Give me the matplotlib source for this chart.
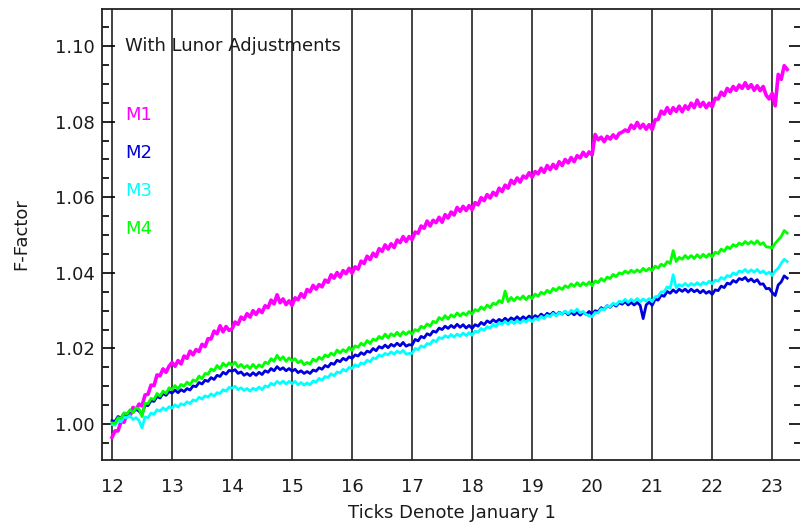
import numpy as np
import matplotlib.pyplot as plt
from matplotlib.ticker import MultipleLocator

# sample times, every 0.05 yr from Jan 1 2012 (year label 12) to early 2023
years = np.linspace(12.0, 23.25, 226)

m1 = [
    0.9965, 0.9982, 0.9982, 1.0007, 1.0005, 1.0027, 1.0021, 1.0044, 1.0038, 1.0053,
    1.0048, 1.0077, 1.0079, 1.0103, 1.0102, 1.0130, 1.0128, 1.0146, 1.0137, 1.0153,
    1.0163, 1.0153, 1.0168, 1.0159, 1.0180, 1.0174, 1.0193, 1.0183, 1.0197, 1.0192,
    1.0211, 1.0205, 1.0226, 1.0225, 1.0246, 1.0239, 1.0260, 1.0244, 1.0258, 1.0248,
    1.0252, 1.0270, 1.0264, 1.0283, 1.0277, 1.0292, 1.0283, 1.0300, 1.0290, 1.0303,
    1.0295, 1.0313, 1.0308, 1.0328, 1.0318, 1.0342, 1.0321, 1.0331, 1.0316, 1.0326,
    1.0314, 1.0334, 1.0329, 1.0345, 1.0335, 1.0356, 1.0350, 1.0367, 1.0357, 1.0369,
    1.0363, 1.0381, 1.0375, 1.0395, 1.0386, 1.0401, 1.0389, 1.0406, 1.0398, 1.0412,
    1.0399, 1.0416, 1.0410, 1.0431, 1.0425, 1.0444, 1.0435, 1.0452, 1.0443, 1.0464,
    1.0457, 1.0474, 1.0463, 1.0477, 1.0467, 1.0487, 1.0480, 1.0496, 1.0483, 1.0496,
    1.0488, 1.0508, 1.0505, 1.0524, 1.0518, 1.0537, 1.0524, 1.0539, 1.0533, 1.0547,
    1.0534, 1.0554, 1.0545, 1.0561, 1.0553, 1.0573, 1.0563, 1.0576, 1.0565, 1.0578,
    1.0567, 1.0586, 1.0580, 1.0599, 1.0591, 1.0607, 1.0598, 1.0613, 1.0605, 1.0624,
    1.0615, 1.0632, 1.0624, 1.0645, 1.0636, 1.0651, 1.0640, 1.0656, 1.0651, 1.0665,
    1.0653, 1.0668, 1.0662, 1.0677, 1.0666, 1.0684, 1.0673, 1.0687, 1.0676, 1.0694,
    1.0684, 1.0700, 1.0691, 1.0705, 1.0694, 1.0710, 1.0704, 1.0719, 1.0708, 1.0720,
    1.0712, 1.0766, 1.0752, 1.0759, 1.0747, 1.0761, 1.0754, 1.0765, 1.0756, 1.0769,
    1.0772, 1.0778, 1.0774, 1.0791, 1.0782, 1.0798, 1.0783, 1.0793, 1.0780, 1.0792,
    1.0779, 1.0805, 1.0806, 1.0828, 1.0820, 1.0837, 1.0822, 1.0837, 1.0827, 1.0841,
    1.0826, 1.0842, 1.0833, 1.0849, 1.0837, 1.0857, 1.0840, 1.0851, 1.0837, 1.0849,
    1.0839, 1.0862, 1.0860, 1.0878, 1.0869, 1.0888, 1.0879, 1.0893, 1.0883, 1.0897,
    1.0888, 1.0903, 1.0888, 1.0898, 1.0883, 1.0895, 1.0882, 1.0893, 1.0870, 1.0860,
    1.0875, 1.0842, 1.0925, 1.0912, 1.0948, 1.0938,
]

m2 = [
    1.0009, 1.0007, 1.0020, 1.0016, 1.0028, 1.0025, 1.0036, 1.0031, 1.0041, 1.0034,
    1.0025, 1.0050, 1.0049, 1.0062, 1.0060, 1.0073, 1.0069, 1.0081, 1.0076, 1.0086,
    1.0082, 1.0090, 1.0083, 1.0091, 1.0086, 1.0094, 1.0090, 1.0101, 1.0099, 1.0110,
    1.0106, 1.0116, 1.0113, 1.0123, 1.0118, 1.0129, 1.0126, 1.0137, 1.0132, 1.0142,
    1.0140, 1.0144, 1.0134, 1.0138, 1.0129, 1.0134, 1.0128, 1.0136, 1.0129, 1.0137,
    1.0131, 1.0141, 1.0137, 1.0147, 1.0141, 1.0152, 1.0144, 1.0149, 1.0141, 1.0147,
    1.0140, 1.0145, 1.0136, 1.0141, 1.0134, 1.0139, 1.0134, 1.0143, 1.0140, 1.0149,
    1.0145, 1.0155, 1.0151, 1.0161, 1.0158, 1.0169, 1.0165, 1.0174, 1.0169, 1.0178,
    1.0174, 1.0183, 1.0180, 1.0189, 1.0184, 1.0193, 1.0190, 1.0200, 1.0194, 1.0205,
    1.0201, 1.0209, 1.0202, 1.0211, 1.0206, 1.0214, 1.0207, 1.0216, 1.0206, 1.0210,
    1.0209, 1.0224, 1.0220, 1.0232, 1.0228, 1.0239, 1.0235, 1.0246, 1.0243, 1.0254,
    1.0250, 1.0259, 1.0253, 1.0261, 1.0255, 1.0264, 1.0256, 1.0263, 1.0254, 1.0261,
    1.0253, 1.0263, 1.0259, 1.0269, 1.0263, 1.0273, 1.0268, 1.0276, 1.0270, 1.0277,
    1.0272, 1.0280, 1.0273, 1.0281, 1.0276, 1.0284, 1.0276, 1.0284, 1.0278, 1.0286,
    1.0278, 1.0287, 1.0282, 1.0291, 1.0284, 1.0293, 1.0288, 1.0296, 1.0288, 1.0296,
    1.0291, 1.0298, 1.0289, 1.0296, 1.0289, 1.0296, 1.0288, 1.0296, 1.0290, 1.0298,
    1.0290, 1.0300, 1.0297, 1.0308, 1.0303, 1.0313, 1.0309, 1.0318, 1.0312, 1.0321,
    1.0317, 1.0324, 1.0315, 1.0322, 1.0315, 1.0322, 1.0314, 1.0279, 1.0315, 1.0323,
    1.0314, 1.0330, 1.0328, 1.0341, 1.0338, 1.0351, 1.0346, 1.0355, 1.0348, 1.0357,
    1.0351, 1.0357, 1.0349, 1.0357, 1.0350, 1.0355, 1.0347, 1.0354, 1.0346, 1.0351,
    1.0343, 1.0355, 1.0353, 1.0365, 1.0361, 1.0373, 1.0370, 1.0380, 1.0375, 1.0385,
    1.0382, 1.0388, 1.0378, 1.0384, 1.0376, 1.0382, 1.0370, 1.0371, 1.0358, 1.0359,
    1.0348, 1.0340, 1.0368, 1.0376, 1.0392, 1.0386,
]

m3 = [
    0.9999, 0.9997, 1.0009, 1.0006, 1.0018, 1.0017, 1.0022, 1.0012, 1.0017, 1.0009,
    0.9990, 1.0019, 1.0017, 1.0029, 1.0026, 1.0038, 1.0034, 1.0043, 1.0037, 1.0046,
    1.0042, 1.0051, 1.0045, 1.0054, 1.0050, 1.0059, 1.0054, 1.0064, 1.0061, 1.0071,
    1.0066, 1.0075, 1.0071, 1.0080, 1.0074, 1.0083, 1.0081, 1.0091, 1.0087, 1.0097,
    1.0095, 1.0100, 1.0091, 1.0096, 1.0089, 1.0094, 1.0087, 1.0095, 1.0090, 1.0098,
    1.0091, 1.0101, 1.0098, 1.0108, 1.0103, 1.0113, 1.0107, 1.0114, 1.0106, 1.0113,
    1.0107, 1.0113, 1.0104, 1.0110, 1.0103, 1.0109, 1.0104, 1.0114, 1.0111, 1.0121,
    1.0116, 1.0126, 1.0123, 1.0133, 1.0128, 1.0138, 1.0135, 1.0145, 1.0140, 1.0150,
    1.0147, 1.0157, 1.0152, 1.0162, 1.0159, 1.0169, 1.0165, 1.0175, 1.0173, 1.0183,
    1.0179, 1.0187, 1.0183, 1.0191, 1.0185, 1.0193, 1.0188, 1.0195, 1.0185, 1.0187,
    1.0187, 1.0200, 1.0197, 1.0207, 1.0203, 1.0213, 1.0211, 1.0222, 1.0218, 1.0229,
    1.0226, 1.0234, 1.0229, 1.0237, 1.0230, 1.0238, 1.0233, 1.0241, 1.0234, 1.0242,
    1.0235, 1.0246, 1.0243, 1.0253, 1.0248, 1.0258, 1.0254, 1.0264, 1.0258, 1.0268,
    1.0264, 1.0272, 1.0264, 1.0272, 1.0266, 1.0274, 1.0267, 1.0275, 1.0270, 1.0278,
    1.0271, 1.0280, 1.0276, 1.0285, 1.0279, 1.0288, 1.0284, 1.0293, 1.0286, 1.0295,
    1.0291, 1.0299, 1.0292, 1.0301, 1.0296, 1.0304, 1.0294, 1.0298, 1.0290, 1.0286,
    1.0284, 1.0295, 1.0294, 1.0305, 1.0302, 1.0313, 1.0310, 1.0320, 1.0315, 1.0325,
    1.0322, 1.0330, 1.0322, 1.0330, 1.0324, 1.0332, 1.0324, 1.0331, 1.0325, 1.0332,
    1.0324, 1.0337, 1.0338, 1.0350, 1.0350, 1.0363, 1.0359, 1.0395, 1.0361, 1.0369,
    1.0365, 1.0372, 1.0365, 1.0372, 1.0367, 1.0374, 1.0367, 1.0375, 1.0370, 1.0378,
    1.0371, 1.0381, 1.0378, 1.0388, 1.0383, 1.0393, 1.0390, 1.0400, 1.0395, 1.0405,
    1.0402, 1.0409, 1.0401, 1.0408, 1.0402, 1.0409, 1.0400, 1.0405, 1.0397, 1.0402,
    1.0393, 1.0405, 1.0412, 1.0425, 1.0436, 1.0430,
]

m4 = [
    1.0003, 1.0002, 1.0017, 1.0015, 1.0030, 1.0026, 1.0038, 1.0030, 1.0043, 1.0040,
    1.0020, 1.0055, 1.0054, 1.0068, 1.0065, 1.0081, 1.0074, 1.0087, 1.0081, 1.0096,
    1.0091, 1.0102, 1.0093, 1.0105, 1.0100, 1.0111, 1.0104, 1.0117, 1.0113, 1.0127,
    1.0120, 1.0134, 1.0132, 1.0146, 1.0141, 1.0155, 1.0146, 1.0161, 1.0153, 1.0162,
    1.0156, 1.0164, 1.0151, 1.0158, 1.0149, 1.0155, 1.0147, 1.0158, 1.0148, 1.0157,
    1.0151, 1.0164, 1.0160, 1.0173, 1.0166, 1.0182, 1.0170, 1.0178, 1.0166, 1.0175,
    1.0167, 1.0173, 1.0162, 1.0168, 1.0157, 1.0163, 1.0159, 1.0172, 1.0166, 1.0177,
    1.0171, 1.0183, 1.0178, 1.0188, 1.0182, 1.0196, 1.0188, 1.0197, 1.0191, 1.0203,
    1.0195, 1.0207, 1.0203, 1.0214, 1.0208, 1.0221, 1.0213, 1.0225, 1.0221, 1.0232,
    1.0226, 1.0238, 1.0228, 1.0239, 1.0233, 1.0243, 1.0233, 1.0244, 1.0237, 1.0245,
    1.0238, 1.0250, 1.0246, 1.0259, 1.0254, 1.0265, 1.0259, 1.0272, 1.0268, 1.0282,
    1.0276, 1.0287, 1.0278, 1.0289, 1.0283, 1.0294, 1.0286, 1.0294, 1.0288, 1.0298,
    1.0291, 1.0303, 1.0299, 1.0310, 1.0303, 1.0315, 1.0308, 1.0320, 1.0316, 1.0327,
    1.0321, 1.0352, 1.0324, 1.0335, 1.0326, 1.0336, 1.0330, 1.0339, 1.0329, 1.0339,
    1.0332, 1.0344, 1.0338, 1.0349, 1.0344, 1.0354, 1.0347, 1.0359, 1.0353, 1.0362,
    1.0356, 1.0366, 1.0361, 1.0371, 1.0364, 1.0374, 1.0365, 1.0374, 1.0367, 1.0376,
    1.0366, 1.0379, 1.0374, 1.0385, 1.0378, 1.0389, 1.0385, 1.0396, 1.0390, 1.0400,
    1.0397, 1.0405, 1.0399, 1.0407, 1.0401, 1.0408, 1.0402, 1.0412, 1.0405, 1.0412,
    1.0406, 1.0418, 1.0413, 1.0423, 1.0418, 1.0430, 1.0425, 1.0459, 1.0430, 1.0441,
    1.0436, 1.0446, 1.0438, 1.0446, 1.0438, 1.0448, 1.0440, 1.0449, 1.0441, 1.0450,
    1.0442, 1.0455, 1.0451, 1.0463, 1.0457, 1.0469, 1.0464, 1.0475, 1.0470, 1.0479,
    1.0474, 1.0483, 1.0476, 1.0483, 1.0476, 1.0485, 1.0475, 1.0480, 1.0469, 1.0468,
    1.0466, 1.0478, 1.0487, 1.0496, 1.0512, 1.0505,
]

names = ['M1', 'M2', 'M3', 'M4']
colors = ['#ff00ff', '#0000dd', '#00ffff', '#00ff00']
widths = [2.6, 2.0, 2.0, 2.0]
year_ticks = list(range(12, 24))

txt = '#1a1a1a'
plt.rcParams['font.family'] = 'DejaVu Sans'

fig = plt.figure(figsize=(8, 5.25), dpi=100)
ax = fig.add_axes([102 / 800, 65 / 525, 699 / 800, 451 / 525])

# one vertical rule per January 1
for yr in year_ticks:
    ax.axvline(yr, color='#222222', lw=1.2, zorder=1)

for series, col, w in zip([m1, m2, m3, m4], colors, widths):
    ax.plot(years, series, color=col, lw=w, zorder=2)

ax.set_xlim(11.833, 23.48)
ax.set_ylim(0.9905, 1.1098)

ax.set_xticks(year_ticks)
ax.tick_params(axis='x', length=0, pad=13, labelsize=13, labelcolor=txt)
ax.yaxis.set_major_locator(MultipleLocator(0.02))
ax.yaxis.set_minor_locator(MultipleLocator(0.005))
ax.yaxis.set_major_formatter(plt.FormatStrFormatter('%.2f'))
ax.tick_params(axis='y', which='major', direction='in', length=9, width=1.2,
               right=True, pad=5, labelsize=13, labelcolor=txt)
ax.tick_params(axis='y', which='minor', direction='in', length=5, width=1.2,
               right=True)
for s in ax.spines.values():
    s.set_linewidth(1.3)
    s.set_color('#222222')

ax.set_xlabel('Ticks Denote January 1', fontsize=13, color=txt, labelpad=6)
ax.set_ylabel('F-Factor', fontsize=13, color=txt, labelpad=18)

ax.text(12.22, 1.1, 'With Lunor Adjustments', fontsize=13, color=txt,
        va='center', ha='left')
for i, (name, col) in enumerate(zip(names, colors)):
    ax.text(12.22, 1.0818 - i * 0.0101, name, fontsize=13, color=col,
            va='center', ha='left')

fig.savefig('out.png', dpi=100)
